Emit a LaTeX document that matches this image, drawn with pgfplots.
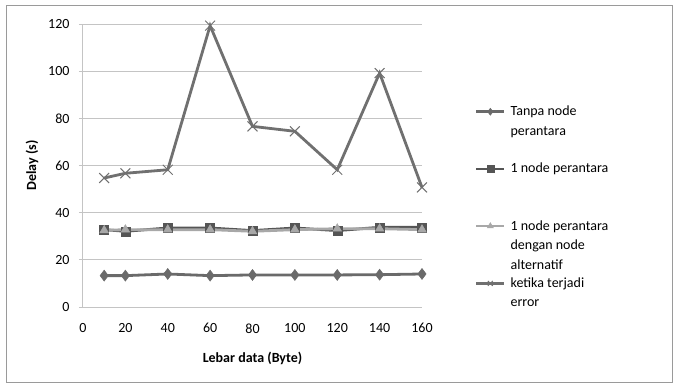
\documentclass[border=0pt]{standalone}
\usepackage{pgfplots}
\pgfplotsset{compat=1.18}
\usepackage{fontspec}
\setmainfont{Carlito}
\definecolor{gridc}{HTML}{C4C4C4}
\definecolor{framec}{HTML}{9A9A9A}
\definecolor{cA}{HTML}{6A6A6A}
\definecolor{cB}{HTML}{555555}
\definecolor{cC}{HTML}{A8A8A8}
\definecolor{cD}{HTML}{707070}
\newcommand\legtxt[1]{\parbox[t]{120pt}{\baselineskip=19.5pt #1}}
\begin{document}
\begin{tikzpicture}
\path[use as bounding box] (-83pt,-77pt) rectangle (591pt,307pt);
\draw[color=framec, line width=1pt] (-76pt,-75pt) rectangle (589pt,302pt);
\begin{axis}[
  at={(0pt,0pt)}, anchor=south west,
  scale only axis, width=339pt, height=283pt,
  xmin=0, xmax=160, ymin=0, ymax=120,
  xtick={0,20,...,160}, ytick={0,20,...,120},
  axis lines*=left,
  axis line style={draw=gridc, line width=1pt},
  ymajorgrids, grid style={draw=gridc, line width=1pt},
  tick align=outside, major tick length=4pt,
  xtick style={draw=none}, ytick style={draw=gridc, line width=1pt},
  font=\fontsize{14}{17}\selectfont,
  /pgf/number format/assume math mode=true,
  xticklabel style={yshift=-9pt},
  yticklabel style={xshift=-6pt},
  xlabel={\textbf{Lebar data (Byte)}},
  ylabel={\textbf{Delay (s)}},
  xlabel style={yshift=-12pt},
  ylabel style={yshift=3pt},
  clip=false,
  legend cell align=left,
  legend style={draw=none, fill=none, at={(1.156,0.718)}, anchor=north west,
    inner sep=0pt, row sep=42pt, column sep=3pt,
    font=\fontsize{14}{19.5}\selectfont,
    cells={anchor=base west}},
  legend image code/.code={\draw[mark repeat=2,mark phase=2,mark size=3.5pt,line width=2.5pt] plot coordinates {(0pt,4pt) (14pt,4pt) (28pt,4pt)};},
]
\addplot[color=cA, line width=2.8pt, mark=diamond*, mark size=5.5pt, mark options={solid, fill=cA, line width=0.5pt}]
  coordinates {(10,13.3) (20,13.3) (40,14.0) (60,13.3) (80,13.6) (100,13.6) (120,13.6) (140,13.7) (160,14.0)};
\addplot[color=cB, line width=2.8pt, mark=square*, mark size=4.5pt, mark options={solid, fill=cB, line width=0.5pt}]
  coordinates {(10,32.8) (20,32.1) (40,33.5) (60,33.5) (80,32.4) (100,33.5) (120,32.4) (140,33.8) (160,33.8)};
\addplot[color=cC, line width=2.8pt, mark=triangle*, mark size=5pt, mark options={solid, fill=cC, line width=0.5pt}]
  coordinates {(10,32.5) (20,32.8) (40,32.8) (60,32.8) (80,32.1) (100,32.8) (120,33.2) (140,33.2) (160,32.8)};
\addplot[color=cD, line width=2.8pt, mark=x, mark size=7pt, mark options={solid, line width=1pt}]
  coordinates {(10,54.7) (20,56.7) (40,58.2) (60,119.3) (80,76.6) (100,74.5) (120,58.2) (140,99.2) (160,50.7)};
\legend{{\legtxt{Tanpa node\\perantara}},{\legtxt{1 node perantara}},{\legtxt{1 node perantara\\dengan node\\alternatif}},{\legtxt{ketika terjadi\\error}}}
\end{axis}
\end{tikzpicture}
\end{document}
